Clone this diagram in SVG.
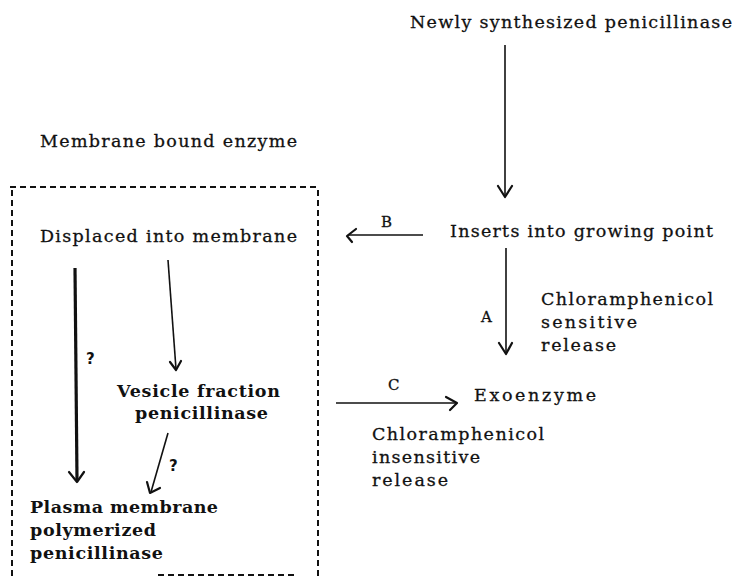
<svg xmlns="http://www.w3.org/2000/svg" width="734" height="577" viewBox="0 0 734 577">
<style>
text{font-family:"DejaVu Serif","Liberation Serif",serif;font-size:17.5px;fill:#111;stroke:#111;stroke-width:0.3}
.b{font-weight:bold;stroke-width:0}
.lbl{font-size:15px}
.q{font-family:"DejaVu Sans","Liberation Sans",sans-serif;font-weight:bold;font-size:15px;stroke-width:0}
.ln{stroke:#111;stroke-width:1.6;fill:none}
.thick{stroke:#111;stroke-width:3.2;fill:none}
.head{stroke:#111;stroke-width:2.2;fill:none;stroke-linecap:round;stroke-linejoin:round}
.dash{stroke:#111;stroke-width:2;fill:none;stroke-dasharray:6 4}
</style>
<rect width="734" height="577" fill="#fff"/>
<g id="box">
<line class="dash" x1="10" y1="187" x2="316" y2="187"/>
<line class="dash" x1="12" y1="190" x2="12" y2="577"/>
<line class="dash" x1="318" y1="190" x2="318" y2="577"/>
<line class="dash" x1="158" y1="575" x2="296" y2="575" stroke-width="1.2"/>
</g>
<g id="newly"><text x="410" y="28" textLength="322" lengthAdjust="spacing">Newly synthesized penicillinase</text></g>
<g id="membrane-bound"><text x="40" y="147" textLength="257" lengthAdjust="spacing">Membrane bound enzyme</text></g>
<g id="displaced"><text x="40" y="242" textLength="257" lengthAdjust="spacing">Displaced into membrane</text></g>
<g id="inserts"><text x="450" y="237" textLength="263" lengthAdjust="spacing">Inserts into growing point</text></g>
<g id="sensitive">
<text x="541" y="305" textLength="172" lengthAdjust="spacing">Chloramphenicol</text>
<text x="541" y="328" textLength="96" lengthAdjust="spacing">sensitive</text>
<text x="541" y="351" textLength="75" lengthAdjust="spacing">release</text>
</g>
<g id="exoenzyme"><text x="474" y="401" textLength="122" lengthAdjust="spacing">Exoenzyme</text></g>
<g id="insensitive">
<text x="372" y="440" textLength="172" lengthAdjust="spacing">Chloramphenicol</text>
<text x="372" y="463" textLength="108" lengthAdjust="spacing">insensitive</text>
<text x="372" y="486" textLength="76" lengthAdjust="spacing">release</text>
</g>
<g id="vesicle">
<text class="b" x="117" y="397" textLength="163" lengthAdjust="spacing">Vesicle fraction</text>
<text class="b" x="135" y="419" textLength="133" lengthAdjust="spacing">penicillinase</text>
</g>
<g id="plasma">
<text class="b" x="30" y="513" textLength="188" lengthAdjust="spacing">Plasma membrane</text>
<text class="b" x="30" y="536" textLength="126" lengthAdjust="spacing">polymerized</text>
<text class="b" x="30" y="559" textLength="133" lengthAdjust="spacing">penicillinase</text>
</g>
<g id="connectors">
<line class="ln" x1="505" y1="45" x2="505" y2="196"/>
<polyline class="head" points="498,186 505,197 512,186"/>
<line class="ln" x1="423" y1="235" x2="348" y2="235"/>
<polyline class="head" points="356,229 347,236 352,242"/>
<text class="lbl" x="381" y="227">B</text>
<line class="ln" x1="506" y1="248" x2="506" y2="353"/>
<polyline class="head" points="499,343 506,354 512,343"/>
<text class="lbl" x="481" y="322">A</text>
<line class="ln" x1="336" y1="403" x2="456" y2="403"/>
<polyline class="head" points="446,397 457,403 450,410"/>
<text class="lbl" x="388" y="390">C</text>
<line class="thick" x1="75" y1="268" x2="77" y2="480"/>
<polyline class="head" points="69,472 77,482 84,472" stroke-width="2.6"/>
<text class="q" x="86" y="364">?</text>
<line class="ln" x1="168" y1="260" x2="176" y2="369"/>
<polyline class="head" points="170,362 176,370 181,361"/>
<line class="ln" x1="168" y1="433" x2="151" y2="492"/>
<polyline class="head" points="147,482 150,493 160,488"/>
<text class="q" x="169" y="471">?</text>
</g>
</svg>
